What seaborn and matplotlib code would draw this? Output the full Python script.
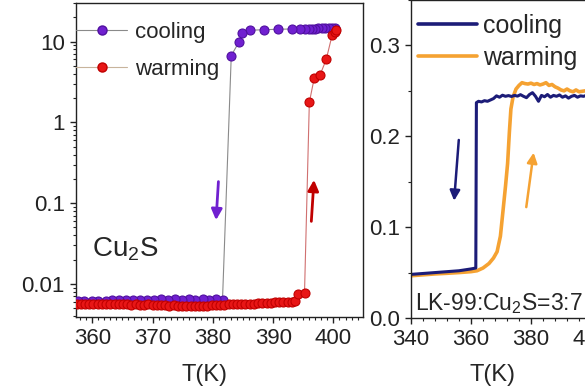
import numpy as np
import pandas as pd
import matplotlib
matplotlib.use("Agg")
import matplotlib.pyplot as plt
import seaborn as sns
from matplotlib.lines import Line2D
from matplotlib.ticker import FixedLocator, FuncFormatter, LogLocator, MultipleLocator, NullFormatter

# ---------------- data: Cu2S (left, log scale) ----------------
cool_T = [400.3, 399.75, 399.2, 398.6, 398.1, 397.5, 397.0, 396.4, 395.9, 395.2, 394.5,
          393.1, 390.8, 388.4, 386.2, 384.8, 384.3, 383.05,
          381.6, 380.5, 379.4, 378.3, 377.1, 376.0, 374.8, 373.7, 372.5, 371.4, 370.2,
          369.1, 367.9, 366.8, 365.6, 364.5, 363.3, 362.2, 361.0, 359.9, 358.7, 357.6]
cool_R = [14.8, 14.8, 14.7, 14.7, 14.6, 14.6, 14.5, 14.5, 14.4, 14.4, 14.3,
          14.3, 14.2, 14.0, 13.8, 12.8, 9.8, 6.7,
          0.0064, 0.0065, 0.0064, 0.0066, 0.0064, 0.0065, 0.0064, 0.0065, 0.0064, 0.0065, 0.0064,
          0.0064, 0.0063, 0.0064, 0.0063, 0.0063, 0.0063, 0.0062, 0.0062, 0.0062, 0.0061, 0.0061]

warm_T = [357.4, 358.1, 358.8, 359.5, 360.2, 360.9, 361.6, 362.3, 363.0, 363.7,
          364.4, 365.1, 365.8, 366.5, 367.2, 367.9, 368.6, 369.3, 370.0, 370.7,
          371.4, 372.1, 372.8, 373.5, 374.2, 374.9, 375.6, 376.3, 377.0, 377.7,
          378.4, 379.1, 379.8, 380.5, 381.2, 381.9, 382.6, 383.3, 384.0, 384.7,
          385.4, 386.1, 386.8, 387.5, 388.2, 388.9, 389.6, 390.3, 391.0, 391.7,
          392.4, 393.1, 393.6, 394.2, 395.2, 396.0, 396.8, 397.8, 398.8, 399.8, 400.2, 400.5]
warm_R = [0.0056, 0.0057, 0.0056, 0.0056, 0.0057, 0.0056, 0.0056, 0.0056, 0.0057, 0.0056,
          0.0056, 0.0056, 0.0056, 0.0055, 0.0056, 0.0055, 0.0055, 0.0056, 0.0055, 0.0055,
          0.0055, 0.0055, 0.0054, 0.0055, 0.0054, 0.0054, 0.0053, 0.0054, 0.0053, 0.0053,
          0.0054, 0.0054, 0.0055, 0.0055, 0.0055, 0.0055, 0.0056, 0.0056, 0.0056, 0.0057,
          0.0057, 0.0057, 0.0057, 0.0058, 0.0058, 0.0058, 0.0058, 0.0059, 0.0059, 0.0059,
          0.0060, 0.0060, 0.0061, 0.0076, 0.0078, 1.77, 3.5, 3.9, 6.0, 12.2, 13.3, 14.0]

# ---------------- data: LK-99:Cu2S=3:7 (right, linear) ----------------
lk_cool_T = [340, 342, 344, 346, 348, 350, 352, 354, 356, 358, 360, 361.6, 361.8,
             362.5, 363.5, 364.5, 365.5, 366.5, 367.5, 368.5, 369.5, 370.5, 371.5, 372.5,
             373.5, 374.5, 375.5, 376.5, 377.5, 378.5, 379.5, 380.5, 381.5, 382.5, 383.5,
             384.5, 385.5, 386.5, 387.5, 388.5, 389.5, 390.5, 391.5, 392.5, 393.5, 394.5,
             395.5, 396.5, 397.5, 398.5, 400.0]
lk_cool_V = [0.0480, 0.0485, 0.0490, 0.0495, 0.0500, 0.0505, 0.0510, 0.0515, 0.0520, 0.0530,
             0.0540, 0.0550, 0.2370, 0.2385, 0.2378, 0.2392, 0.2385, 0.2400, 0.2415, 0.2445,
             0.2430, 0.2452, 0.2440, 0.2448, 0.2438, 0.2450, 0.2442, 0.2458, 0.2440, 0.2425,
             0.2460, 0.2480, 0.2440, 0.2385, 0.2450, 0.2435, 0.2460, 0.2430, 0.2450, 0.2440,
             0.2455, 0.2430, 0.2445, 0.2420, 0.2440, 0.2450, 0.2430, 0.2445, 0.2440, 0.2450, 0.2440]

lk_warm_T = [340, 344, 348, 352, 356, 360, 362, 364, 366, 367.5, 368.7, 369.8, 370.7,
             371.5, 372.2, 372.8, 373.3, 374, 375, 376, 377, 378, 379, 380, 381, 382,
             383, 384, 385, 386, 387, 388, 389, 390, 391, 392, 393, 394, 395, 396, 398, 400]
lk_warm_V = [0.0465, 0.0475, 0.0485, 0.0492, 0.0500, 0.0510, 0.0520, 0.0550, 0.0600, 0.0660,
             0.0730, 0.0900, 0.1190, 0.1450, 0.1700, 0.2050, 0.2300, 0.2430, 0.2520, 0.2560,
             0.2590, 0.2580, 0.2575, 0.2585, 0.2570, 0.2580, 0.2565, 0.2575, 0.2590, 0.2560,
             0.2570, 0.2545, 0.2530, 0.2510, 0.2500, 0.2520, 0.2500, 0.2490, 0.2510, 0.2490,
             0.2500, 0.2480]

left_yticks = [0.01, 0.1, 1, 10]
left_xticks = [360, 370, 380, 390, 400]
right_yticks = [0.0, 0.1, 0.2, 0.3]
right_xticks = [340, 360, 380, 400]
series_labels = ["cooling", "warming"]

# ---------------- style ----------------
sns.set_theme(style="ticks")
FONT = "Liberation Sans"
plt.rcParams["font.family"] = [FONT, "DejaVu Sans"]
plt.rcParams["mathtext.fontset"] = "custom"
plt.rcParams["mathtext.rm"] = FONT
plt.rcParams["mathtext.it"] = FONT

FS = 16
PURPLE = "#7020d0"
PURPLE_E = "#5010a0"
RED = "#e81616"
RED_E = "#c00000"
NAVY = "#1c1c78"
ORANGE = "#f5a232"
INK = "#222222"

fig = plt.figure(figsize=(5.85, 3.90), dpi=100)
axL = fig.add_axes([76 / 585, 73 / 390, 287 / 585, 314 / 390])
axR = fig.add_axes([411 / 585, 72 / 390, 240 / 585, 318 / 390])

# ---- left panel ----
dc = pd.DataFrame({"T": cool_T, "R": cool_R})
dw = pd.DataFrame({"T": warm_T, "R": warm_R})
sns.lineplot(data=dc, x="T", y="R", sort=False, estimator=None, ax=axL, color="#8a8a8a", lw=0.8)
sns.scatterplot(data=dc, x="T", y="R", ax=axL, color=PURPLE, edgecolor=PURPLE_E, s=42, linewidth=0.8, zorder=3)
sns.lineplot(data=dw, x="T", y="R", sort=False, estimator=None, ax=axL, color="#d07070", lw=0.8)
sns.scatterplot(data=dw, x="T", y="R", ax=axL, color=RED, edgecolor=RED_E, s=42, linewidth=0.8, zorder=4)

axL.set_yscale("log")
axL.set_xlim(357.3, 404.9)
axL.set_ylim(0.0039, 30)
axL.yaxis.set_major_locator(FixedLocator(left_yticks))
axL.yaxis.set_major_formatter(FuncFormatter(lambda v, p: f"{v:g}"))
axL.yaxis.set_minor_locator(LogLocator(base=10, subs=range(2, 10), numticks=20))
axL.yaxis.set_minor_formatter(NullFormatter())
axL.xaxis.set_major_locator(FixedLocator(left_xticks))
axL.xaxis.set_minor_locator(MultipleLocator(1))
axL.set_xlabel("T(K)", fontsize=17)
axL.xaxis.set_label_coords(0.449, -0.15)
axL.set_ylabel("")

axL.annotate("", xy=(380.5, 0.057), xytext=(380.95, 0.2),
             arrowprops=dict(arrowstyle="-|>", color=PURPLE, lw=2, mutation_scale=16))
axL.annotate("", xy=(396.8, 0.21), xytext=(396.3, 0.055),
             arrowprops=dict(arrowstyle="-|>", color=RED_E, lw=2, mutation_scale=16))
axL.text(360.0, 0.0216, "Cu$_2$S", fontsize=20, ha="left", va="baseline")

hL = [Line2D([], [], color="#8a8a8a", lw=0.8, marker="o", ms=6.5, mfc=PURPLE, mec=PURPLE_E),
      Line2D([], [], color="#c8b49c", lw=0.8, marker="o", ms=6.5, mfc=RED, mec=RED_E)]
axL.legend(hL, series_labels, loc="upper left", bbox_to_anchor=(0.0, 0.941), frameon=False,
           fontsize=16, handlelength=2.3, handletextpad=0.36, labelspacing=0.72,
           borderpad=0, borderaxespad=0)

# ---- right panel ----
rc = pd.DataFrame({"T": lk_cool_T, "V": lk_cool_V})
rw = pd.DataFrame({"T": lk_warm_T, "V": lk_warm_V})
sns.lineplot(data=rw, x="T", y="V", sort=False, estimator=None, ax=axR, color=ORANGE, lw=2.6)
sns.lineplot(data=rc, x="T", y="V", sort=False, estimator=None, ax=axR, color=NAVY, lw=2.2)
axR.set_xlim(340, 420)
axR.set_ylim(0, 0.35)
axR.yaxis.set_major_locator(FixedLocator(right_yticks))
axR.yaxis.set_major_formatter(FuncFormatter(lambda v, p: f"{v:.1f}"))
axR.yaxis.set_minor_locator(MultipleLocator(0.05))
axR.xaxis.set_major_locator(FixedLocator(right_xticks))
axR.xaxis.set_minor_locator(MultipleLocator(4))
axR.set_xlabel("T(K)", fontsize=17)
axR.xaxis.set_label_coords((493 - 411) / 240, -0.145)
axR.set_ylabel("")

axR.annotate("", xy=(354.3, 0.126), xytext=(356.0, 0.199),
             arrowprops=dict(arrowstyle="-|>", color=NAVY, lw=1.8, mutation_scale=15))
axR.annotate("", xy=(381.0, 0.185), xytext=(378.3, 0.119),
             arrowprops=dict(arrowstyle="-|>", color=ORANGE, lw=1.8, mutation_scale=15))
axR.text(341.3, 0.0088, "LK-99:Cu$_2$S=3:7", fontsize=16.5, ha="left", va="baseline")

hR = [Line2D([], [], color=NAVY, lw=2.6), Line2D([], [], color=ORANGE, lw=2.6)]
axR.legend(hR, series_labels, loc="upper left", bbox_to_anchor=(0.029, 0.957), frameon=False,
           fontsize=18, handlelength=2.36, handletextpad=0.24, labelspacing=0.33,
           borderpad=0, borderaxespad=0)

for ax in (axL, axR):
    for s in ax.spines.values():
        s.set_visible(True)
        s.set_linewidth(1.0)
        s.set_color(INK)
    ax.tick_params(which="major", direction="out", length=4, width=1, labelsize=FS, pad=4,
                   colors=INK, labelcolor=INK)
    ax.tick_params(which="minor", direction="out", length=2.5, width=0.8, colors=INK)

fig.savefig("out.png", dpi=100)
